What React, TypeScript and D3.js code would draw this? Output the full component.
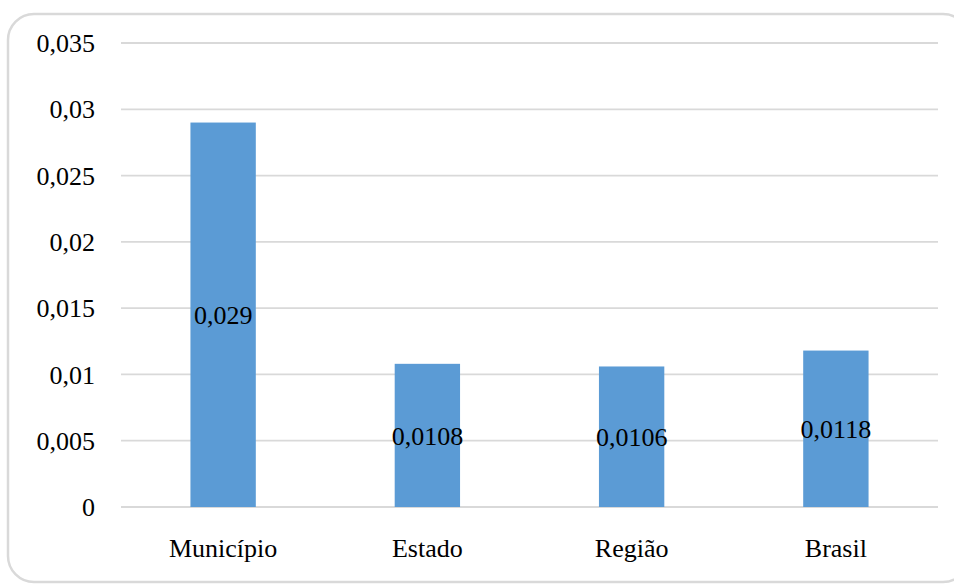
import React from "react";
import * as d3 from "d3";

const categories = ["Município", "Estado", "Região", "Brasil"];
const values = [0.029, 0.0108, 0.0106, 0.0118];
const valueLabels = ["0,029", "0,0108", "0,0106", "0,0118"];
const yTicks = [0, 0.005, 0.01, 0.015, 0.02, 0.025, 0.03, 0.035];
const yTickLabels = ["0", "0,005", "0,01", "0,015", "0,02", "0,025", "0,03", "0,035"];

const W = 954;
const H = 584;
const plot = { left: 121, right: 938, top: 43, bottom: 507 };
const font = '"Liberation Serif", "Times New Roman", "DejaVu Serif", serif';
const textStyle = { fontFamily: font, fontSize: 26 };

export default function App() {
  const x = d3
    .scaleBand<string>()
    .domain(categories)
    .range([plot.left, plot.right])
    .paddingInner(0.68)
    .paddingOuter(0.34);
  const y = d3.scaleLinear().domain([0, 0.035]).range([plot.bottom, plot.top]);

  return (
    <svg
      width={W}
      height={H}
      style={{ position: "absolute", left: 0, top: 0, background: "#fff", fontFamily: font }}
    >
      <rect
        x={8}
        y={14}
        width={961}
        height={568}
        rx={26}
        ry={26}
        fill="#fff"
        stroke="#d9d9d9"
        strokeWidth={2.5}
      />
      {yTicks.map((t, i) => (
        <g key={i}>
          <line
            x1={plot.left}
            x2={plot.right}
            y1={y(t)}
            y2={y(t)}
            stroke="#d9d9d9"
            strokeWidth={1.8}
          />
          <text x={95} y={y(t)} dy="0.35em" textAnchor="end" style={textStyle} fill="#000">
            {yTickLabels[i]}
          </text>
        </g>
      ))}
      {categories.map((c, i) => {
        const bx = x(c)!;
        const top = y(values[i]);
        return (
          <g key={c}>
            <rect
              x={bx}
              y={top}
              width={x.bandwidth()}
              height={y(0) - top}
              fill="#5b9bd5"
            />
            <text
              x={bx + x.bandwidth() / 2}
              y={(top + y(0)) / 2}
              dy="0.35em"
              textAnchor="middle"
              style={textStyle}
              fill="#000"
            >
              {valueLabels[i]}
            </text>
            <text
              x={bx + x.bandwidth() / 2}
              y={557}
              textAnchor="middle"
              style={textStyle}
              fill="#000"
            >
              {c}
            </text>
          </g>
        );
      })}
    </svg>
  );
}
